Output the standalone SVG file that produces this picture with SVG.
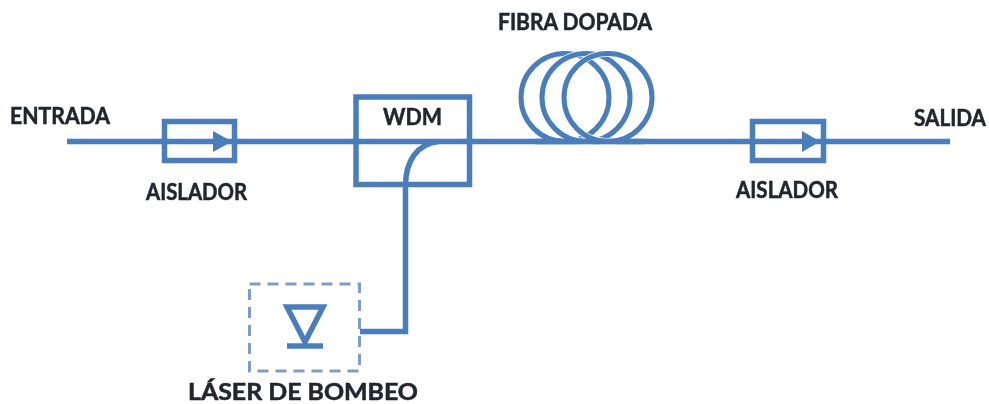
<svg xmlns="http://www.w3.org/2000/svg" width="989" height="404" viewBox="0 0 989 404">
<defs>
<style>
.ln{fill:none;stroke:#4a7ebb;stroke-width:5.500}
.coil{fill:none;stroke:#4a7ebb;stroke-width:5}
.halo{fill:none;stroke:#fff;stroke-width:6.500}
.ah{fill:#4a7ebb}
.dash{fill:none;stroke:#7f9cc4;stroke-width:3;stroke-dasharray:11 7}
.lb{font-family:"Lato","Liberation Sans",sans-serif;font-weight:700;font-size:22px;fill:#23252e;stroke:#23252e;stroke-width:0.500;filter:url(#soft)}
</style>
<filter id="soft" x="-5%" y="-20%" width="110%" height="140%"><feGaussianBlur stdDeviation="0.500"/></filter>
</defs>
<rect width="989" height="404" fill="#fff"/>
<g id="connectors">
<path class="ln" d="M67 141.500H950"/>
<path class="ln" d="M405.500 334V186C405.500 160 418 144 438 141.500"/>
<path class="ln" d="M360 331.500H408"/>
</g>
<g id="isolator-1">
<rect class="ln" x="164.500" y="121.500" width="70" height="39"/>
<path class="ah" d="M213 131L232 141.500L213 152Z"/>
<text class="lb" x="146" y="200" textLength="101" lengthAdjust="spacingAndGlyphs">AISLADOR</text>
</g>
<g id="wdm">
<rect class="ln" x="356" y="97" width="113.500" height="87.500"/>
<text class="lb" x="383" y="125" textLength="59" lengthAdjust="spacingAndGlyphs">WDM</text>
</g>
<g id="fibra-dopada">
<circle class="coil" cx="565" cy="97.500" r="44"/>
<circle class="halo" cx="586" cy="97.500" r="44"/>
<circle class="coil" cx="586" cy="97.500" r="44"/>
<circle class="halo" cx="608" cy="97.500" r="44"/>
<circle class="coil" cx="608" cy="97.500" r="44"/>
<path class="ln" d="M535 141.500H645"/>
<text class="lb" x="498" y="30" textLength="154" lengthAdjust="spacingAndGlyphs">FIBRA DOPADA</text>
</g>
<g id="isolator-2">
<rect class="ln" x="752.500" y="121.500" width="71" height="39"/>
<path class="ah" d="M802 131L820 141.500L802 152Z"/>
<text class="lb" x="736" y="198" textLength="102" lengthAdjust="spacingAndGlyphs">AISLADOR</text>
</g>
<g id="laser">
<rect class="dash" x="249.500" y="284" width="110" height="87"/>
<path class="ln" d="M287 307H323L305 342Z"/>
<path class="ln" d="M287 346H323"/>
<text class="lb" x="188" y="399.500" textLength="230" lengthAdjust="spacingAndGlyphs">LÁSER DE BOMBEO</text>
</g>
<g id="entrada"><text class="lb" x="10" y="124" textLength="100" lengthAdjust="spacingAndGlyphs">ENTRADA</text></g>
<g id="salida"><text class="lb" x="914" y="126" textLength="72" lengthAdjust="spacingAndGlyphs">SALIDA</text></g>
</svg>
